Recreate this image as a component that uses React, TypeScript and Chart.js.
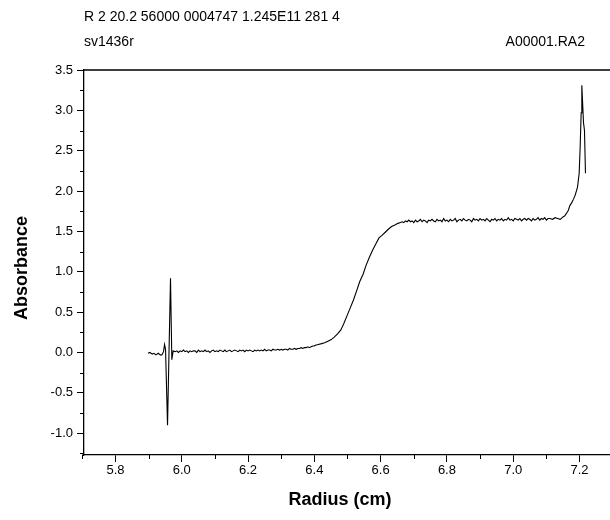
import React, { useEffect, useRef } from "react";
import { Chart, registerables } from "chart.js";

Chart.register(...registerables);

const headerLine1 = "R 2 20.2 56000 0004747 1.245E11 281 4";
const headerLine2 = "sv1436r";
const headerRight = "A00001.RA2";
const xTitle = "Radius (cm)";
const yTitle = "Absorbance";

const xMajorTicks = [5.8, 6.0, 6.2, 6.4, 6.6, 6.8, 7.0, 7.2];
const xMinorTicks = [5.7, 5.9, 6.1, 6.3, 6.5, 6.7, 6.9, 7.1];
const yMajorTicks = [-1.0, -0.5, 0.0, 0.5, 1.0, 1.5, 2.0, 2.5, 3.0, 3.5];
const yMinorTicks = [-1.25, -0.75, -0.25, 0.25, 0.75, 1.25, 1.75, 2.25, 2.75, 3.25];
const xMin = 5.705;
const xMax = 7.292;
const yMin = -1.27;
const yMax = 3.5;

// meniscus region
const meniscusRadius = [5.898, 5.904, 5.911, 5.916, 5.922, 5.929, 5.935, 5.94, 5.945, 5.948, 5.951, 5.957, 5.966, 5.97, 5.974];
const meniscusAbs = [-0.01, 0.0, -0.02, -0.01, -0.03, -0.01, -0.03, -0.03, 0.01, 0.1, 0.04, -0.9, 0.92, -0.09, 0.02];

// baseline before the boundary
const baselineRadius = [
  5.98, 5.985, 5.99, 5.995, 6.0, 6.005, 6.01, 6.015, 6.02, 6.025,
  6.03, 6.035, 6.04, 6.045, 6.05, 6.055, 6.06, 6.065, 6.07, 6.075,
  6.08, 6.085, 6.09, 6.095, 6.1, 6.105, 6.11, 6.115, 6.12, 6.125,
  6.13, 6.135, 6.14, 6.145, 6.15, 6.155, 6.16, 6.165, 6.17, 6.175,
  6.18, 6.185, 6.19, 6.195, 6.2, 6.205, 6.21, 6.215, 6.22, 6.225,
  6.23, 6.235, 6.24, 6.245, 6.25, 6.255, 6.26, 6.265, 6.27, 6.275,
  6.28, 6.285, 6.29, 6.295, 6.3, 6.305, 6.31, 6.315, 6.32, 6.325,
  6.33, 6.335, 6.34, 6.345, 6.35, 6.355, 6.36, 6.365, 6.37, 6.375,
  6.38, 6.385, 6.39, 6.395, 6.4,
];
const baselineAbs = [
  0.01, 0.02, 0.0, 0.02, 0.01, 0.03, 0.01, 0.02, 0.0, 0.02,
  0.01, 0.02, 0.02, 0.0, 0.03, 0.01, 0.02, 0.01, 0.03, 0.01,
  0.02, 0.0, 0.02, 0.03, 0.01, 0.02, 0.01, 0.03, 0.02, 0.01,
  0.03, 0.01, 0.02, 0.03, 0.01, 0.02, 0.03, 0.02, 0.01, 0.03,
  0.02, 0.03, 0.01, 0.03, 0.02, 0.03, 0.02, 0.01, 0.03, 0.02,
  0.03, 0.02, 0.03, 0.02, 0.04, 0.02, 0.03, 0.03, 0.02, 0.04,
  0.03, 0.03, 0.04, 0.03, 0.04, 0.03, 0.04, 0.04, 0.03, 0.05,
  0.04, 0.04, 0.05, 0.04, 0.05, 0.05, 0.06, 0.05, 0.06, 0.06,
  0.07, 0.06, 0.07, 0.08, 0.08,
];

// sedimentation boundary
const boundaryRadius = [
  6.403, 6.412, 6.422, 6.431, 6.441, 6.451, 6.46, 6.47, 6.48, 6.489,
  6.499, 6.508, 6.518, 6.528, 6.537, 6.547, 6.556, 6.566, 6.576, 6.585,
  6.595, 6.604, 6.614, 6.624, 6.633, 6.643, 6.652,
];
const boundaryAbs = [
  0.09, 0.1, 0.11, 0.12, 0.14, 0.16, 0.19, 0.23, 0.28, 0.36,
  0.46, 0.55, 0.65, 0.77, 0.88, 0.97, 1.08, 1.18, 1.27, 1.34,
  1.42, 1.45, 1.49, 1.53, 1.56, 1.58, 1.6,
];

// plateau
const plateauRadius = [
  6.66, 6.665, 6.67, 6.675, 6.68, 6.685, 6.69, 6.695, 6.7, 6.705,
  6.71, 6.715, 6.72, 6.725, 6.73, 6.735, 6.74, 6.745, 6.75, 6.755,
  6.76, 6.765, 6.77, 6.775, 6.78, 6.785, 6.79, 6.795, 6.8, 6.805,
  6.81, 6.815, 6.82, 6.825, 6.83, 6.835, 6.84, 6.845, 6.85, 6.855,
  6.86, 6.865, 6.87, 6.875, 6.88, 6.885, 6.89, 6.895, 6.9, 6.905,
  6.91, 6.915, 6.92, 6.925, 6.93, 6.935, 6.94, 6.945, 6.95, 6.955,
  6.96, 6.965, 6.97, 6.975, 6.98, 6.985, 6.99, 6.995, 7.0, 7.005,
  7.01, 7.015, 7.02, 7.025, 7.03, 7.035, 7.04, 7.045, 7.05, 7.055,
  7.06, 7.065, 7.07, 7.075, 7.08, 7.085, 7.09, 7.095, 7.1, 7.105,
];
const plateauAbs = [
  1.61, 1.62, 1.61, 1.63, 1.62, 1.64, 1.62, 1.63, 1.61, 1.64,
  1.62, 1.63, 1.65, 1.62, 1.64, 1.63, 1.61, 1.64, 1.63, 1.65,
  1.63, 1.62, 1.65, 1.63, 1.64, 1.62, 1.66, 1.63, 1.64, 1.62,
  1.65, 1.63, 1.64, 1.66, 1.62, 1.64, 1.65, 1.63, 1.66, 1.64,
  1.63, 1.65, 1.64, 1.62, 1.66, 1.64, 1.65, 1.63, 1.66, 1.64,
  1.65, 1.63, 1.66, 1.64, 1.62, 1.65, 1.64, 1.66, 1.63, 1.65,
  1.64, 1.66, 1.63, 1.65, 1.64, 1.67, 1.64, 1.65, 1.63, 1.66,
  1.65, 1.64, 1.66, 1.63, 1.65, 1.66, 1.64, 1.66, 1.65, 1.63,
  1.66, 1.64, 1.65, 1.67, 1.64, 1.66, 1.65, 1.67, 1.64, 1.66,
];

// cell bottom
const bottomRadius = [7.111, 7.119, 7.126, 7.134, 7.142, 7.15, 7.155, 7.16, 7.166, 7.171, 7.177, 7.182, 7.187, 7.194, 7.199, 7.202, 7.205, 7.207, 7.212, 7.215, 7.218];
const bottomAbs = [1.66, 1.65, 1.67, 1.66, 1.65, 1.68, 1.69, 1.72, 1.76, 1.82, 1.86, 1.9, 1.95, 2.05, 2.22, 2.55, 2.97, 3.31, 2.85, 2.75, 2.22];

const FONT = "'Liberation Sans', Arial, Helvetica, sans-serif";

function buildPoints() {
  const rs = [meniscusRadius, baselineRadius, boundaryRadius, plateauRadius, bottomRadius];
  const as = [meniscusAbs, baselineAbs, boundaryAbs, plateauAbs, bottomAbs];
  const pts: { x: number; y: number }[] = [];
  rs.forEach((r, i) => r.forEach((x, j) => pts.push({ x, y: as[i][j] })));
  return pts;
}

const decorPlugin = {
  id: "decor",
  afterDraw(chart: any) {
    const { ctx, chartArea, scales } = chart;
    const xs = scales.x;
    const ys = scales.y;
    ctx.save();
    ctx.strokeStyle = "#000";
    ctx.lineWidth = 1.3;
    ctx.beginPath();
    ctx.moveTo(chartArea.left, chartArea.top);
    ctx.lineTo(chartArea.right, chartArea.top);
    // x axis line extends slightly left of the y axis, to 5.7
    const p57 = xs.getPixelForValue(5.7);
    ctx.moveTo(p57, chartArea.bottom);
    ctx.lineTo(chartArea.left, chartArea.bottom);
    ctx.stroke();
    ctx.lineWidth = 1;
    ctx.beginPath();
    xMinorTicks.forEach((v) => {
      const px = Math.round(xs.getPixelForValue(v)) + 0.5;
      if (px > chartArea.right + 1) return;
      ctx.moveTo(px, chartArea.bottom);
      ctx.lineTo(px, chartArea.bottom + 4);
    });
    yMinorTicks.forEach((v) => {
      if (v < yMin || v > yMax) return;
      const py = Math.round(ys.getPixelForValue(v)) + 0.5;
      ctx.moveTo(chartArea.left, py);
      ctx.lineTo(chartArea.left - 4, py);
    });
    ctx.stroke();
    ctx.fillStyle = "#000";
    ctx.font = `bold 18px ${FONT}`;
    ctx.textAlign = "center";
    ctx.textBaseline = "middle";
    ctx.fillText(xTitle, 340, 500);
    ctx.translate(22, 268);
    ctx.rotate(-Math.PI / 2);
    ctx.fillText(yTitle, 0, 0);
    ctx.restore();
  },
};

function AbsorbanceChart() {
  const canvasRef = useRef<HTMLCanvasElement | null>(null);
  useEffect(() => {
    document.body.style.margin = "0";
    const canvas = canvasRef.current;
    if (!canvas) return;
    const chart = new Chart(canvas, {
      type: "line",
      data: {
        datasets: [
          {
            data: buildPoints(),
            borderColor: "#000",
            borderWidth: 1.1,
            pointRadius: 0,
            tension: 0,
            fill: false,
          },
        ],
      },
      options: {
        animation: false,
        responsive: false,
        maintainAspectRatio: false,
        events: [],
        layout: { padding: { top: 70, right: 0, bottom: 0, left: 0 } },
        plugins: { legend: { display: false }, tooltip: { enabled: false }, title: { display: false } },
        scales: {
          x: {
            type: "linear",
            min: xMin,
            max: xMax,
            afterBuildTicks: (scale: any) => {
              scale.ticks = xMajorTicks.map((v) => ({ value: v }));
            },
            afterFit: (scale: any) => {
              scale.height = 65;
            },
            border: { display: true, color: "#000", width: 1.3 },
            grid: { drawOnChartArea: false, drawTicks: true, tickLength: 7, color: "#000", tickColor: "#000", tickWidth: 1 },
            ticks: {
              color: "#000",
              font: { family: FONT, size: 13 },
              padding: 1,
              maxRotation: 0,
              autoSkip: false,
              callback: (v: any) => Number(v).toFixed(1),
            },
          },
          y: {
            type: "linear",
            min: yMin,
            max: yMax,
            afterBuildTicks: (scale: any) => {
              scale.ticks = yMajorTicks.map((v) => ({ value: v }));
            },
            afterFit: (scale: any) => {
              scale.width = 84;
            },
            border: { display: true, color: "#000", width: 1.3 },
            grid: { drawOnChartArea: false, drawTicks: true, tickLength: 7, color: "#000", tickColor: "#000", tickWidth: 1 },
            ticks: {
              color: "#000",
              font: { family: FONT, size: 13 },
              padding: 4,
              autoSkip: false,
              callback: (v: any) => Number(v).toFixed(1),
            },
          },
        },
      },
      plugins: [decorPlugin],
    });
    return () => chart.destroy();
  }, []);

  const textStyle: React.CSSProperties = {
    position: "absolute",
    fontFamily: FONT,
    fontSize: "14px",
    color: "#000",
    lineHeight: "16px",
    whiteSpace: "nowrap",
  };

  return (
    <div style={{ position: "relative", width: 610, height: 520, background: "#fff", overflow: "hidden" }}>
      <canvas ref={canvasRef} width={610} height={520} style={{ position: "absolute", left: 0, top: 0, width: 610, height: 520 }} />
      <div style={{ ...textStyle, left: 84, top: 8 }}>{headerLine1}</div>
      <div style={{ ...textStyle, left: 84, top: 33 }}>{headerLine2}</div>
      <div style={{ ...textStyle, right: 25, top: 33 }}>{headerRight}</div>
    </div>
  );
}

export default function App() {
  return <AbsorbanceChart />;
}
